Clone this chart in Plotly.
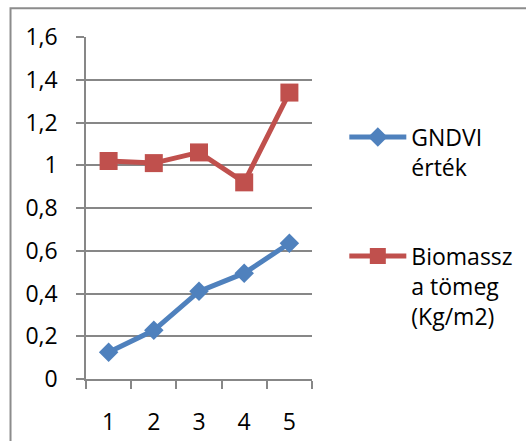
import plotly.graph_objects as go

categories = [1, 2, 3, 4, 5]
gndvi = [0.125, 0.228, 0.41, 0.495, 0.635]
biomassza = [1.02, 1.01, 1.06, 0.92, 1.34]
y_ticks = [0, 0.2, 0.4, 0.6, 0.8, 1.0, 1.2, 1.4, 1.6]
y_labels = ["0", "0,2", "0,4", "0,6", "0,8", "1", "1,2", "1,4", "1,6"]
names = ["GNDVI<br>érték", "Biomassz<br>a tömeg<br>(Kg/m2)"]

FONT = "Open Sans"
GRID = "#878787"

fig = go.Figure()
fig.add_trace(go.Scatter(
    x=categories, y=gndvi, name=names[0], legendgroup="g1",
    mode="lines+markers",
    line=dict(color="#4F81BD", width=5),
    marker=dict(symbol="diamond", size=15, color="#4F81BD"),
))
fig.add_trace(go.Scatter(
    x=categories, y=biomassza, name=names[1], legendgroup="g2",
    mode="lines+markers",
    line=dict(color="#C0504D", width=5),
    marker=dict(symbol="square", size=18, color="#C0504D"),
))

fig.update_layout(
    width=526, height=441,
    margin=dict(l=86, r=214, t=37, b=61.5, pad=0, autoexpand=False),
    paper_bgcolor="white", plot_bgcolor="white",
    font=dict(family=FONT, size=23, color="black"),
    showlegend=True,
    legend=dict(
        x=1.143, y=0.77, xanchor="left", yanchor="top",
        valign="top", tracegroupgap=56, itemwidth=57,
        font=dict(family=FONT, size=23, color="black"),
        bgcolor="rgba(0,0,0,0)",
    ),
    xaxis=dict(
        range=[0.5, 5.5], tickmode="array", tickvals=categories,
        ticktext=[str(c) for c in categories],
        showgrid=False, zeroline=False, automargin=False,
        showline=True, linecolor=GRID, linewidth=1.5,
        ticks="outside", ticklen=8, tickcolor="rgba(0,0,0,0)", tickwidth=1.5,
        ticklabelstandoff=14,
        minor=dict(tickmode="array", tickvals=[0.5, 1.5, 2.5, 3.5, 4.5, 5.5],
                   ticks="outside", ticklen=8, tickcolor=GRID, tickwidth=1.5,
                   showgrid=False),
    ),
    yaxis=dict(
        range=[0, 1.6], tickmode="array", tickvals=y_ticks, ticktext=y_labels,
        showgrid=True, gridcolor=GRID, gridwidth=1.5,
        zeroline=False, automargin=False,
        showline=True, linecolor=GRID, linewidth=1.5,
        ticks="outside", ticklen=8, tickcolor=GRID, tickwidth=1.5,
        ticklabelstandoff=14,
    ),
)

# chart frame
fig.add_shape(type="rect", xref="paper", yref="paper",
              x0=-0.334, x1=2.1, y0=-0.3, y1=1.084,
              line=dict(color="#8c8c8c", width=2), fillcolor="rgba(0,0,0,0)",
              layer="below")

fig.write_html("out.html")
